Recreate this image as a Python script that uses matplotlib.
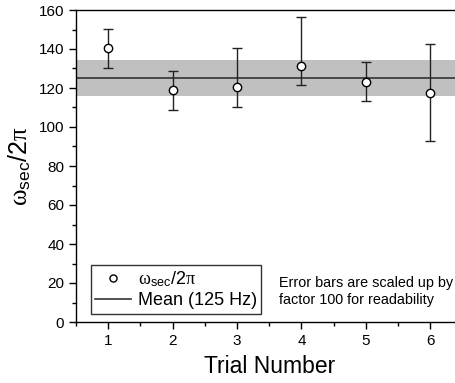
import numpy as np
import matplotlib
matplotlib.use('Agg')
import matplotlib.pyplot as plt

plt.rcParams['font.family'] = ['Liberation Sans', 'DejaVu Sans']
plt.rcParams['mathtext.fontset'] = 'custom'
plt.rcParams['mathtext.rm'] = 'Liberation Serif'
plt.rcParams['mathtext.sf'] = 'Liberation Sans'
plt.rcParams['mathtext.it'] = 'Liberation Serif:italic'

# data
trial = [1, 2, 3, 4, 5, 6]
omega = [140.5, 118.8, 120.3, 131.3, 123.2, 117.6]
err_low = [10, 10, 10, 10, 10, 25]
err_high = [10, 10, 20, 25, 10, 25]
mean_val = 125.3
band_low, band_high = 116.0, 134.4

label_w = r'$\mathrm{\omega}_{\mathsf{sec}}\mathsf{/2}\mathrm{\pi}$'

fig = plt.figure(figsize=(4.56, 3.83), dpi=100)
ax = fig.add_axes([76/456, 61/383, 386.4/456, 312/383])

ax.axhspan(band_low, band_high, color='#c0c0c0', lw=0, zorder=1)
ax.axhline(mean_val, color='#333333', lw=1.2, zorder=2, label='Mean (125 Hz)')
ax.errorbar(trial, omega, yerr=[err_low, err_high], fmt='none', ecolor='#222222',
            elinewidth=1, capsize=3.5, capthick=1, zorder=3)
ax.plot(trial, omega, 'o', mfc='white', mec='black', mew=1, ms=6, zorder=4,
        label=label_w)

ax.set_xlim(0.5, 6.5)
ax.set_ylim(0, 160)
ax.set_xticks([1, 2, 3, 4, 5, 6])
ax.set_xticks(np.arange(0.5, 6.6, 0.5), minor=True)
ax.set_yticks(np.arange(0, 161, 20))
ax.set_yticks(np.arange(0, 161, 10), minor=True)
ax.tick_params(which='major', direction='out', length=5, width=1, labelsize=11)
ax.tick_params(which='minor', direction='out', length=3, width=1)
ax.spines['right'].set_visible(False)
for s in ['left', 'bottom', 'top']:
    ax.spines[s].set_linewidth(1)

ax.set_xlabel('Trial Number', fontsize=16.5, labelpad=5)
ax.set_ylabel(label_w, fontsize=18, labelpad=4)

handles, labels = ax.get_legend_handles_labels()
leg = ax.legend(handles[::-1], labels[::-1], loc='lower left',
                bbox_to_anchor=(0.038, 0.026), borderaxespad=0, fontsize=13,
                fancybox=False, edgecolor='#333333', framealpha=1, markerscale=0.85,
                handlelength=2.0, borderpad=0.25, labelspacing=0.2, handletextpad=0.35)
leg.get_frame().set_linewidth(1)

ax.text(0.525, 0.098, 'Error bars are scaled up by\nfactor 100 for readability',
        transform=ax.transAxes, fontsize=10.4, va='center', ha='left', linespacing=1.3)

fig.savefig('out.png', dpi=100)
